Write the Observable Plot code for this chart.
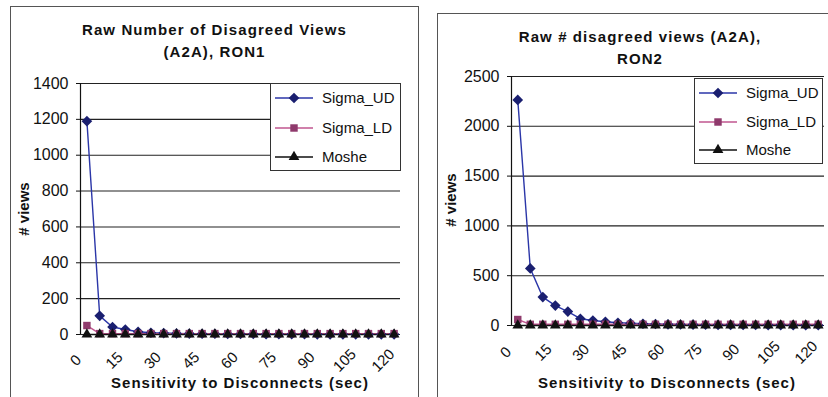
<!DOCTYPE html>
<html>
<head>
<meta charset="utf-8">
<script src="https://cdn.jsdelivr.net/npm/d3@7"></script>
<script src="https://cdn.jsdelivr.net/npm/@observablehq/plot@0.6"></script>
<style>
  body { margin: 0; background: #fff; font-family: "Liberation Sans", Arial, sans-serif; }
  #page { position: relative; width: 828px; height: 397px; overflow: hidden; background: #fff; }
  .box { position: absolute; border: 1px solid #555; box-sizing: border-box; }
  .title { position: absolute; font-weight: bold; font-size: 15px; text-align: center; line-height: 22px; letter-spacing: 1.1px; color: #111; white-space: nowrap; }
  .xlabel { position: absolute; font-weight: bold; font-size: 15px; letter-spacing: 1px; color: #111; white-space: nowrap; transform: translateX(-50%); }
  .ylabel { position: absolute; font-weight: bold; font-size: 15px; color: #111; white-space: nowrap; transform: translate(-50%, -50%) rotate(-90deg); }
  .chart { position: absolute; top: 0; }
  .legend { position: absolute; border: 1px solid #333; background: #fff; box-sizing: border-box; }
  .legend svg { display: block; }
</style>
</head>
<body>
<div id="page"></div>
<script>
// Disconnect sensitivity settings (seconds), one point per setting
const seconds = [0, 5, 10, 15, 20, 25, 30, 35, 40, 45, 50, 55, 60, 65, 70, 75, 80, 85, 90, 95, 100, 105, 110, 115, 120];
const tickSeconds = [0, 15, 30, 45, 60, 75, 90, 105, 120];
const seriesNames = ["Sigma_UD", "Sigma_LD", "Moshe"];

// RON1: raw number of disagreed views
const ron1SigmaUD = [1190, 104, 42, 28, 15, 10, 8, 6, 5, 4, 4, 3, 3, 3, 2, 2, 2, 2, 1, 1, 1, 1, 1, 1, 1];
const ron1SigmaLD = [50, 5, 5, 5, 5, 5, 5, 5, 5, 5, 5, 5, 5, 5, 5, 5, 5, 5, 5, 5, 5, 5, 5, 5, 5];
const ron1Moshe   = [0, 0, 0, 0, 0, 0, 0, 0, 0, 0, 0, 0, 0, 0, 0, 0, 0, 0, 0, 0, 0, 0, 0, 0, 0];

// RON2: raw number of disagreed views
const ron2SigmaUD = [2265, 573, 285, 200, 140, 68, 50, 38, 28, 22, 18, 15, 12, 10, 9, 8, 7, 6, 5, 5, 4, 4, 3, 3, 3];
const ron2SigmaLD = [60, 12, 12, 12, 12, 12, 12, 12, 12, 12, 12, 12, 12, 12, 12, 12, 12, 12, 12, 12, 12, 12, 12, 12, 12];
const ron2Moshe   = [0, 0, 0, 0, 0, 0, 0, 0, 0, 0, 0, 0, 0, 0, 0, 0, 0, 0, 0, 0, 0, 0, 0, 0, 0];

// Series styling
const styles = {
  Sigma_UD: {line: "#2b36a8", fill: "#1a1f70", symbol: "diamond2", r: 4.8},
  Sigma_LD: {line: "#c0568f", fill: "#8f3a6c", symbol: "square", r: 4.2},
  Moshe:    {line: "#111111", fill: "#111111", symbol: "triangle", r: 4.0}
};

const page = document.getElementById("page");

function addDiv(cls, css, text) {
  const d = document.createElement("div");
  d.className = cls;
  Object.assign(d.style, css);
  if (text != null) d.innerHTML = text;
  page.appendChild(d);
  return d;
}

function drawChart(cfg) {
  const {left, width, height, margin, yMax, yStep, values, labelOffset} = cfg;
  const rows = name => seconds.map((s, i) => ({s, v: values[name][i], name}));
  const half = (seconds[1] - seconds[0]) / 2;
  const xDomain = [seconds[0] - half, seconds[seconds.length - 1] + half];
  const yTicks = d3.range(0, yMax + 1, yStep);

  const marks = [
    Plot.gridY(yTicks, {stroke: "#222", strokeOpacity: 1, strokeWidth: 1.1}),
    Plot.ruleX([xDomain[0]], {stroke: "#111", strokeWidth: 1.2}),
    Plot.axisY(yTicks, {tickSize: 4, tickPadding: 8, fontSize: 16, label: null, stroke: "#111", fill: "#111", tickFormat: d => String(d)}),
    // slanted category labels, centred a little below-left of each tick
    Plot.text(tickSeconds, {x: d => d, y: () => 0, text: d => String(d), rotate: -45,
      textAnchor: "middle", lineAnchor: "middle", dx: labelOffset[0], dy: labelOffset[1], fontSize: 15, fill: "#111"})
  ];
  for (const name of seriesNames) {
    const st = styles[name];
    marks.push(Plot.line(rows(name), {x: "s", y: "v", stroke: st.line, strokeWidth: 1.4}));
  }
  for (const name of seriesNames) {
    const st = styles[name];
    marks.push(Plot.dot(rows(name), {x: "s", y: "v", symbol: () => st.symbol, fill: st.fill, stroke: "none", r: st.r}));
  }

  const svg = Plot.plot({
    width, height,
    marginLeft: margin.left, marginRight: margin.right, marginTop: margin.top, marginBottom: margin.bottom,
    style: {fontFamily: "'Liberation Sans', Arial, sans-serif", background: "transparent", overflow: "visible"},
    x: {type: "linear", domain: xDomain, axis: null},
    y: {type: "linear", domain: [0, yMax]},
    symbol: {type: "identity"},
    marks
  });
  svg.classList.add("chart");
  svg.style.left = left + "px";
  page.appendChild(svg);
}

function drawLegend(x, y, w, h, rowYs) {
  const div = addDiv("legend", {left: x + "px", top: y + "px", width: w + "px", height: h + "px"});
  const svg = d3.create("svg").attr("width", w - 2).attr("height", h - 2);
  seriesNames.forEach((name, i) => {
    const st = styles[name];
    const cy = rowYs[i];
    svg.append("line").attr("x1", 4).attr("x2", 42).attr("y1", cy).attr("y2", cy)
      .attr("stroke", st.line).attr("stroke-width", 1.4);
    svg.append("path").attr("transform", `translate(23,${cy})`)
      .attr("d", d3.symbol(st.symbol === "diamond2" ? d3.symbolDiamond2 : st.symbol === "square" ? d3.symbolSquare : d3.symbolTriangle, Math.PI * st.r * st.r)())
      .attr("fill", st.fill);
    svg.append("text").attr("x", 51).attr("y", cy).attr("dy", "0.35em")
      .attr("font-size", 15).attr("fill", "#111")
      .attr("font-family", "'Liberation Sans', Arial, sans-serif").text(name);
  });
  div.appendChild(svg.node());
}

// Chart frames
addDiv("box", {left: "10px", top: "6px", width: "409px", height: "400px"});
addDiv("box", {left: "437px", top: "13px", width: "420px", height: "400px"});

// Left chart: RON1
drawChart({
  left: 0, width: 418, height: 397,
  margin: {left: 80, right: 18, top: 83, bottom: 63},
  yMax: 1400, yStep: 200, labelOffset: [-11, 26],
  values: {Sigma_UD: ron1SigmaUD, Sigma_LD: ron1SigmaLD, Moshe: ron1Moshe}
});
addDiv("title", {left: "10px", width: "409px", top: "19px"}, "Raw Number of Disagreed Views<br>(A2A), RON1");
addDiv("xlabel", {left: "240px", top: "374px"}, "Sensitivity to Disconnects (sec)");
addDiv("ylabel", {left: "23px", top: "209px"}, "# views");
drawLegend(270, 83, 131, 88, [14, 44, 73]);

// Right chart: RON2
drawChart({
  left: 418, width: 410, height: 397,
  margin: {left: 93, right: 4, top: 76, bottom: 72},
  yMax: 2500, yStep: 500, labelOffset: [-12, 27],
  values: {Sigma_UD: ron2SigmaUD, Sigma_LD: ron2SigmaLD, Moshe: ron2Moshe}
});
addDiv("title", {left: "437px", width: "406px", top: "26px"}, "Raw # disagreed views (A2A),<br>RON2");
addDiv("xlabel", {left: "667px", top: "374px"}, "Sensitivity to Disconnects (sec)");
addDiv("ylabel", {left: "450px", top: "200px"}, "# views");
drawLegend(694, 78, 129, 86, [14, 43, 71]);
</script>
</body>
</html>
